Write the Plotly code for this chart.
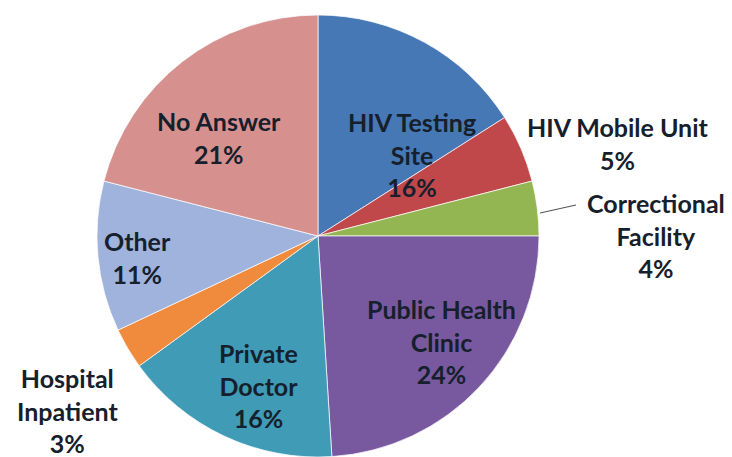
import plotly.graph_objects as go

categories = ["HIV Testing Site", "HIV Mobile Unit", "Correctional Facility",
              "Public Health Clinic", "Private Doctor", "Hospital Inpatient",
              "Other", "No Answer"]
values = [16, 5, 4, 24, 16, 3, 11, 21]
label_lines = [["HIV Testing", "Site"], ["HIV Mobile Unit"], ["Correctional", "Facility"],
               ["Public Health", "Clinic"], ["Private", "Doctor"], ["Hospital", "Inpatient"],
               ["Other"], ["No Answer"]]
colors = ["#4678b5", "#c0474a", "#93b653", "#7859a0", "#409bb7", "#f08a3c", "#9fb3dd", "#d6918f"]

# The page body has an 8px default margin; the figure is sized to fill the rest.
OFF = 8
W, H = 732 - OFF, 457 - OFF

def px2paper(px, py):
    return (px - OFF) / W, 1 - (py - OFF) / H

# label block centres in page pixels (layout styling)
label_pos = [(412, 154), (618, 143), (656, 235), (441, 341),
             (258, 385), (67, 410), (137, 257), (219, 138)]

fig = go.Figure(go.Pie(
    labels=categories, values=values, sort=False, direction="clockwise", rotation=0,
    marker=dict(colors=colors, line=dict(color="rgba(255,255,255,0.7)", width=1)),
    textinfo="none", hoverinfo="label+percent", showlegend=False,
    domain=dict(x=[(97 - OFF) / W, (539 - OFF) / W], y=[0, 442 / H]),
))

annotations = []
for lines, v, (px, py) in zip(label_lines, values, label_pos):
    text = "<br>".join(lines + [f"{v}%"])
    x, y = px2paper(px, py)
    annotations.append(dict(
        x=x, y=y, xref="paper", yref="paper", text=text,
        showarrow=False, xanchor="center", yanchor="middle", align="center",
        font=dict(family="Lato", size=25, color="#16202c", weight=700),
    ))

x0, y0 = px2paper(540, 213)
x1, y1 = px2paper(576, 205)
fig.update_layout(
    width=W, height=H, margin=dict(l=0, r=0, t=0, b=0),
    paper_bgcolor="white", plot_bgcolor="white",
    annotations=annotations,
    shapes=[dict(type="line", xref="paper", yref="paper",
                 x0=x0, y0=y0, x1=x1, y1=y1,
                 line=dict(color="#555555", width=1.2))],
)
fig.write_html("out.html")
